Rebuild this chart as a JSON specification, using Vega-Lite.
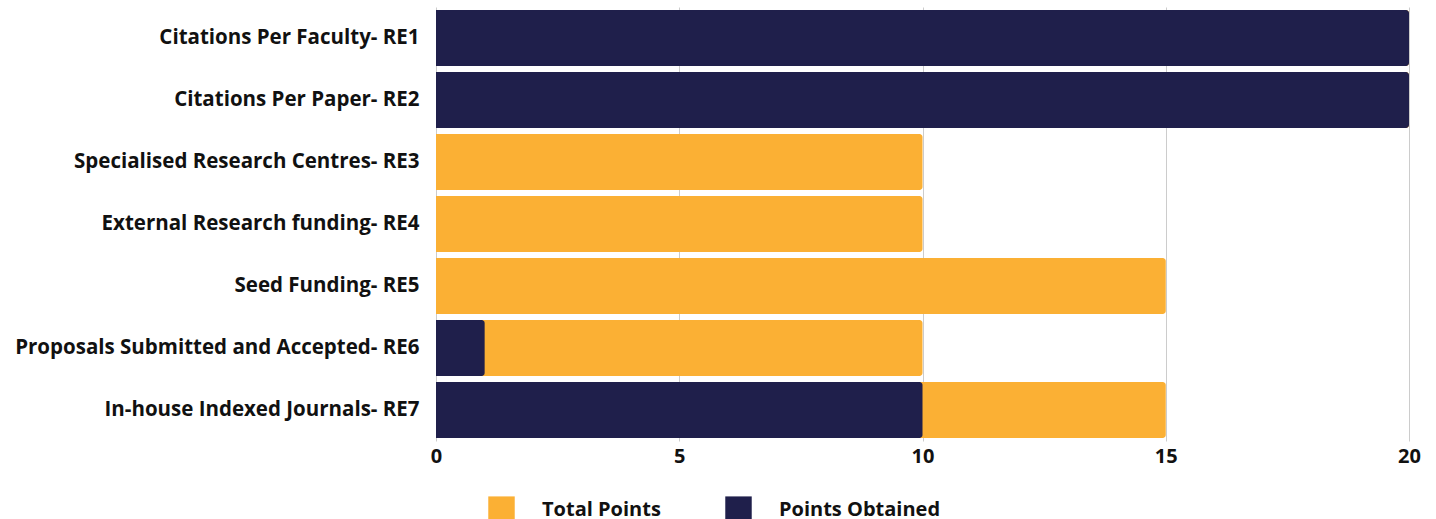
{
  "$schema": "https://vega.github.io/schema/vega-lite/v6.json",
  "width": 973,
  "height": 434,
  "padding": {"left": 0, "top": 7, "right": 27, "bottom": 0},
  "background": "white",
  "config": {
    "view": {"stroke": null},
    "font": "Open Sans",
    "axis": {"labelFont": "Open Sans", "labelFontWeight": "bold", "labelColor": "#111111"},
    "legend": {"labelFont": "Open Sans", "labelFontWeight": "bold", "labelColor": "#111111"}
  },
  "data": {
    "values": [
      {"criterion": "Citations Per Faculty- RE1", "series": "Total Points", "value": 20},
      {"criterion": "Citations Per Paper- RE2", "series": "Total Points", "value": 20},
      {"criterion": "Specialised Research Centres- RE3", "series": "Total Points", "value": 10},
      {"criterion": "External Research funding- RE4", "series": "Total Points", "value": 10},
      {"criterion": "Seed Funding- RE5", "series": "Total Points", "value": 15},
      {"criterion": "Proposals Submitted and Accepted- RE6", "series": "Total Points", "value": 10},
      {"criterion": "In-house Indexed Journals- RE7", "series": "Total Points", "value": 15},
      {"criterion": "Citations Per Faculty- RE1", "series": "Points Obtained", "value": 20},
      {"criterion": "Citations Per Paper- RE2", "series": "Points Obtained", "value": 20},
      {"criterion": "Specialised Research Centres- RE3", "series": "Points Obtained", "value": 0},
      {"criterion": "External Research funding- RE4", "series": "Points Obtained", "value": 0},
      {"criterion": "Seed Funding- RE5", "series": "Points Obtained", "value": 0},
      {"criterion": "Proposals Submitted and Accepted- RE6", "series": "Points Obtained", "value": 1},
      {"criterion": "In-house Indexed Journals- RE7", "series": "Points Obtained", "value": 10}
    ]
  },
  "mark": {"type": "bar", "cornerRadiusEnd": 3},
  "encoding": {
    "y": {
      "field": "criterion",
      "type": "nominal",
      "sort": null,
      "title": null,
      "scale": {"paddingInner": 0.1, "paddingOuter": 0.05},
      "axis": {"ticks": false, "domain": false, "labelFontSize": 20.5, "labelPadding": 17, "labelLimit": 500, "minExtent": 436, "maxExtent": 436}
    },
    "x": {
      "field": "value",
      "type": "quantitative",
      "stack": null,
      "title": null,
      "scale": {"domain": [0, 20], "nice": false},
      "axis": {
        "values": [0, 5, 10, 15, 20],
        "ticks": false,
        "domain": false,
        "grid": true,
        "gridColor": "#cccccc",
        "gridWidth": 1,
        "labelFontSize": 20,
        "labelPadding": 5,
        "labelFlush": false
      }
    },
    "color": {
      "field": "series",
      "type": "nominal",
      "scale": {"domain": ["Total Points", "Points Obtained"], "range": ["#fbb034", "#1f1f4b"]},
      "legend": {
        "title": null,
        "orient": "none",
        "direction": "horizontal",
        "legendX": 52,
        "legendY": 489,
        "symbolType": "square",
        "symbolSize": 700,
        "symbolStrokeWidth": 0,
        "labelFontSize": 20,
        "labelOffset": 27,
        "labelLimit": 400,
        "columnPadding": 64,
        "symbolOpacity": 1
      }
    }
  }
}
